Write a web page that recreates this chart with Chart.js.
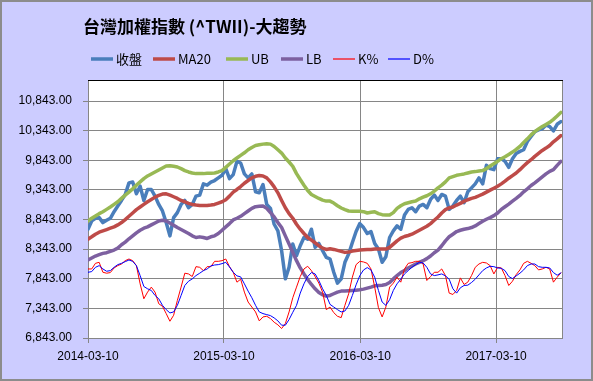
<!DOCTYPE html>
<html><head><meta charset="utf-8">
<script src="https://cdn.jsdelivr.net/npm/chart.js@4.4.0/dist/chart.umd.min.js"></script>
<style>html,body{margin:0;padding:0;background:#CCCCFF;} canvas{display:block;}</style>
</head><body>
<canvas id="c" width="593" height="381"></canvas>
<script>
// day offsets from 2014-03-10 of each sample
const days = [0,10,20,30,40,50,60,70,80,90,100,110,120,130,140,150,160,170,180,190,200,210,220,230,240,250,260,270,280,290,300,310,320,330,340,350,360,370,380,390,400,410,420,430,440,450,460,470,480,490,500,510,520,530,540,550,560,570,580,590,600,610,620,630,640,650,660,670,680,690,700,710,720,730,740,750,760,770,780,790,800,810,820,830,840,850,860,870,880,890,900,910,920,930,940,950,960,970,980,990,1000,1010,1020,1030,1040,1050,1060,1070,1080,1090,1100,1110,1120,1130,1140,1150,1160,1170,1180,1190,1200,1210,1220,1230,1240,1250,1260,1270];

const closeVals = [8680,8820,8865,8876,8792,8831,8865,8976,9071,9166,9267,9463,9479,9278,9407,9166,9351,9351,9239,9099,8988,8792,8568,8876,8960,9099,9166,9043,9099,9239,9256,9446,9424,
 9474,9502,9547,9591,9703,9535,9602,9826,9798,9614,9547,9614,9312,9295,9435,9099,9032,8764,8652,8317,7842,8037,8429,8233,8401,8540,8512,8680,8373,8440,8317,8205,
 8177,7953,7769,7842,8121,8261,8456,8641,8775,8708,8607,8641,8440,8345,8121,8216,8540,8652,8736,8680,8920,9015,9043,8976,9071,9099,9043,9183,9256,9166,9267,9239,9015,
 9071,9166,9239,9127,9312,9379,9446,9547,9446,9759,9703,9686,9871,9871,9826,9725,9871,9960,9994,10022,10161,10245,10329,10357,10374,10441,10413,10340,10452,10497];

const ma20Vals = [8512,8552,8596,8630,8652,8674,8697,8719,8753,8792,8842,8898,8954,9010,9055,9099,9144,9183,9222,9250,9273,9278,9256,9228,9200,9166,9144,9116,9099,9088,9082,9082,9082,
 9088,9099,9122,9144,9178,9239,9306,9351,9401,9457,9502,9547,9574,9586,9580,9547,9479,9396,9295,9166,9043,8943,8865,8764,8680,8608,8540,8496,8451,8401,8361,8339,
 8350,8339,8322,8306,8289,8294,8311,8322,8328,8334,8339,8339,8345,8345,8345,8345,8373,8429,8484,8529,8557,8574,8596,8630,8663,8697,8730,8775,8831,8887,8954,9010,9040,
 9055,9088,9116,9150,9178,9200,9217,9245,9273,9306,9340,9373,9407,9446,9491,9541,9586,9630,9686,9748,9804,9854,9910,9960,10010,10050,10094,10156,10206,10262];

const ubVals = [8820,8865,8904,8943,8976,9015,9055,9099,9144,9200,9256,9306,9362,9424,9479,9535,9580,9614,9647,9681,9714,9748,9753,9742,9731,9703,9670,9647,9630,9619,9619,9619,9625,
 9625,9630,9647,9670,9725,9781,9837,9882,9927,9971,10022,10061,10094,10106,10117,10122,10117,10078,10022,9966,9882,9815,9742,9619,9519,9424,9334,9267,9233,9200,9172,9155,
 9155,9122,9077,9038,9010,8988,8982,8982,8982,8976,8954,8965,8976,8943,8926,8920,8920,8960,9032,9077,9111,9127,9144,9155,9194,9222,9245,9278,9323,9379,9424,9479,9547,
 9569,9591,9602,9614,9630,9647,9653,9664,9670,9703,9748,9787,9826,9871,9904,9943,9983,10027,10078,10145,10206,10273,10329,10374,10413,10447,10486,10536,10592,10653];

const lbVals = [8160,8194,8227,8250,8272,8283,8306,8328,8361,8417,8462,8518,8568,8619,8663,8697,8719,8753,8786,8820,8831,8820,8786,8747,8708,8675,8641,8607,8568,8540,8551,8540,8524,
 8552,8568,8607,8663,8719,8775,8837,8865,8898,8943,8988,9032,9060,9066,9071,9032,8960,8887,8792,8708,8568,8429,8289,8149,8026,7925,7830,7747,7674,7612,7573,7551,
 7562,7590,7618,7635,7635,7640,7646,7651,7657,7668,7685,7702,7724,7730,7735,7746,7780,7841,7897,7948,7981,8026,8060,8093,8121,8149,8183,8227,8283,8328,8401,8484,8552,
 8596,8641,8663,8680,8691,8708,8736,8775,8814,8848,8876,8909,8954,9015,9060,9105,9155,9200,9250,9312,9362,9418,9463,9513,9563,9614,9658,9686,9759,9826];

const kVals = [8009,8009,8104,8121,7953,7937,7948,8026,8065,8093,8149,8177,8149,8065,7758,7506,7618,7702,7618,7422,7378,7255,7126,7227,7478,7702,7937,7925,7881,8048,8037,7981,8048,
 8048,8138,8138,8149,8177,8048,7953,7786,7836,7618,7450,7366,7283,7132,7199,7210,7171,7109,7065,7003,7087,7283,7523,7702,7881,8009,8054,7981,7881,7769,7618,7322,
 7366,7271,7210,7187,7394,7590,7870,8082,8138,8127,8104,8009,7702,7355,7199,7366,7702,7769,7870,7786,8009,8104,8116,8138,8138,8093,7814,7881,7953,7953,8009,7897,7601,
 7578,7646,7858,7747,7786,7897,8037,8093,8121,8110,8065,7925,8037,8026,7897,7730,7802,7914,7993,8104,8138,8104,8065,7993,8009,8037,8009,7786,7869,7942];

const dVals = [7953,7964,8037,8065,8009,7970,7981,8037,8082,8104,8132,8160,8138,8065,7897,7713,7674,7646,7562,7506,7394,7322,7266,7283,7394,7562,7730,7802,7841,7897,7937,7981,8009,
 8060,8076,8082,8099,8121,8043,7953,7892,7875,7758,7635,7523,7394,7283,7255,7238,7221,7182,7132,7059,7059,7154,7277,7394,7601,7758,7881,7948,7925,7814,7674,7562,
 7411,7366,7322,7283,7299,7394,7562,7741,7897,7992,8032,7992,7869,7646,7450,7394,7489,7646,7758,7836,7925,7981,8037,8082,8121,8110,8037,7925,7897,7909,7925,7892,7836,
 7674,7601,7691,7730,7735,7780,7836,7909,7981,8026,8054,8048,8026,8020,7981,7881,7847,7892,7937,7993,8065,8093,8093,8048,8037,8037,8026,7948,7903,7942];

const tickDays = [0,365,731,1096];
const tickLabels = ['2014-03-10','2015-03-10','2016-03-10','2017-03-10'];
const yTicks = [6843,7343,7843,8343,8843,9343,9843,10343,10843];
const seriesNames = ['收盤','MA20','UB','LB','K%','D%'];
const titleText = '台灣加權指數 (^TWII)-大趨勢';

const colors = ['#4A7EBB','#BE4B48','#98B954','#7D60A0','#FF0000','#0000FF'];
const widths = [3.5,3.5,3.5,3.5,1,1];
const allSeries = [closeVals, ma20Vals, ubVals, lbVals, kVals, dVals];

const datasets = allSeries.map((vals, s) => ({
  label: seriesNames[s],
  data: days.map((d, i) => ({x: d, y: vals[i]})),
  borderColor: colors[s],
  backgroundColor: colors[s],
  borderWidth: widths[s],
  pointRadius: 0,
  tension: 0,
  fill: false,
  order: 5 - s,
  borderJoinStyle: 'round',
  borderCapStyle: 'round'
}));

const LAV = '#CCCCFF';
const GRID = '#868686';

const deco = {
  id: 'deco',
  beforeDraw(chart) {
    const {ctx, chartArea: a} = chart;
    ctx.save();
    ctx.fillStyle = LAV;
    ctx.fillRect(0, 0, chart.width, chart.height);
    ctx.fillStyle = '#FFFFFF';
    ctx.fillRect(a.left, a.top, a.right - a.left, a.bottom - a.top);
    ctx.restore();
  },
  afterDraw(chart) {
    const {ctx, chartArea: a} = chart;
    ctx.save();
    ctx.lineWidth = 1;
    ctx.strokeStyle = GRID;
    ctx.beginPath();
    ctx.moveTo(Math.round(a.right) + 0.5, a.top);
    ctx.lineTo(Math.round(a.right) + 0.5, a.bottom);
    ctx.stroke();
    ctx.strokeStyle = '#000000';
    ctx.beginPath();
    ctx.moveTo(a.left, Math.round(a.top) + 0.5);
    ctx.lineTo(a.right + 1, Math.round(a.top) + 0.5);
    ctx.stroke();
    ctx.strokeStyle = '#8C8C8C';
    ctx.lineWidth = 2;
    ctx.strokeRect(1, 1, chart.width - 2, chart.height - 2);
    ctx.fillStyle = '#000000';
    ctx.font = 'bold 17px "Noto Sans CJK TC", sans-serif';
    ctx.textBaseline = 'middle';
    ctx.textAlign = 'left';
    ctx.fillText(titleText, 83, 27);
    const starts = [91, 153, 226, 281, 333, 388];
    ctx.font = '13px "Noto Sans CJK TC", sans-serif';
    seriesNames.forEach((name, s) => {
      const x0 = starts[s];
      ctx.strokeStyle = colors[s];
      ctx.lineWidth = widths[s] < 2 ? 1.2 : 3.5;
      ctx.lineCap = 'butt';
      ctx.beginPath();
      ctx.moveTo(x0, 59);
      ctx.lineTo(x0 + 22, 59);
      ctx.stroke();
      ctx.fillStyle = '#000000';
      ctx.fillText(name, x0 + 25, 59);
    });
    ctx.restore();
  }
};

const fmt = v => Number(v).toLocaleString('en-US', {minimumFractionDigits: 2, maximumFractionDigits: 2});

new Chart(document.getElementById('c'), {
  type: 'line',
  data: {datasets},
  options: {
    responsive: false,
    animation: false,
    devicePixelRatio: 1,
    layout: {padding: {left: 18, right: 31, top: 80, bottom: 17}},
    plugins: {legend: {display: false}, title: {display: false}, tooltip: {enabled: false}},
    scales: {
      x: {
        type: 'linear', min: 0, max: 1273,
        afterBuildTicks: ax => { ax.ticks = tickDays.map(v => ({value: v})); },
        afterFit: ax => { ax.height = 26; },
        ticks: {
          autoSkip: false, maxRotation: 0, padding: 6, color: '#000000',
          font: {family: '"Liberation Sans", Arial, sans-serif', size: 12},
          callback: v => tickLabels[tickDays.indexOf(v)]
        },
        grid: {color: GRID, tickLength: 5, drawTicks: true},
        border: {color: GRID}
      },
      y: {
        type: 'linear', min: 6843, max: 11200,
        afterBuildTicks: ax => { ax.ticks = yTicks.map(v => ({value: v})); },
        afterFit: ax => { ax.width = 70; },
        ticks: {
          autoSkip: false, padding: 11, color: '#000000',
          font: {family: '"Liberation Sans", Arial, sans-serif', size: 12},
          callback: v => fmt(v)
        },
        grid: {color: GRID, tickLength: 5, drawTicks: true},
        border: {color: GRID}
      }
    }
  },
  plugins: [deco]
});
</script>
</body></html>
